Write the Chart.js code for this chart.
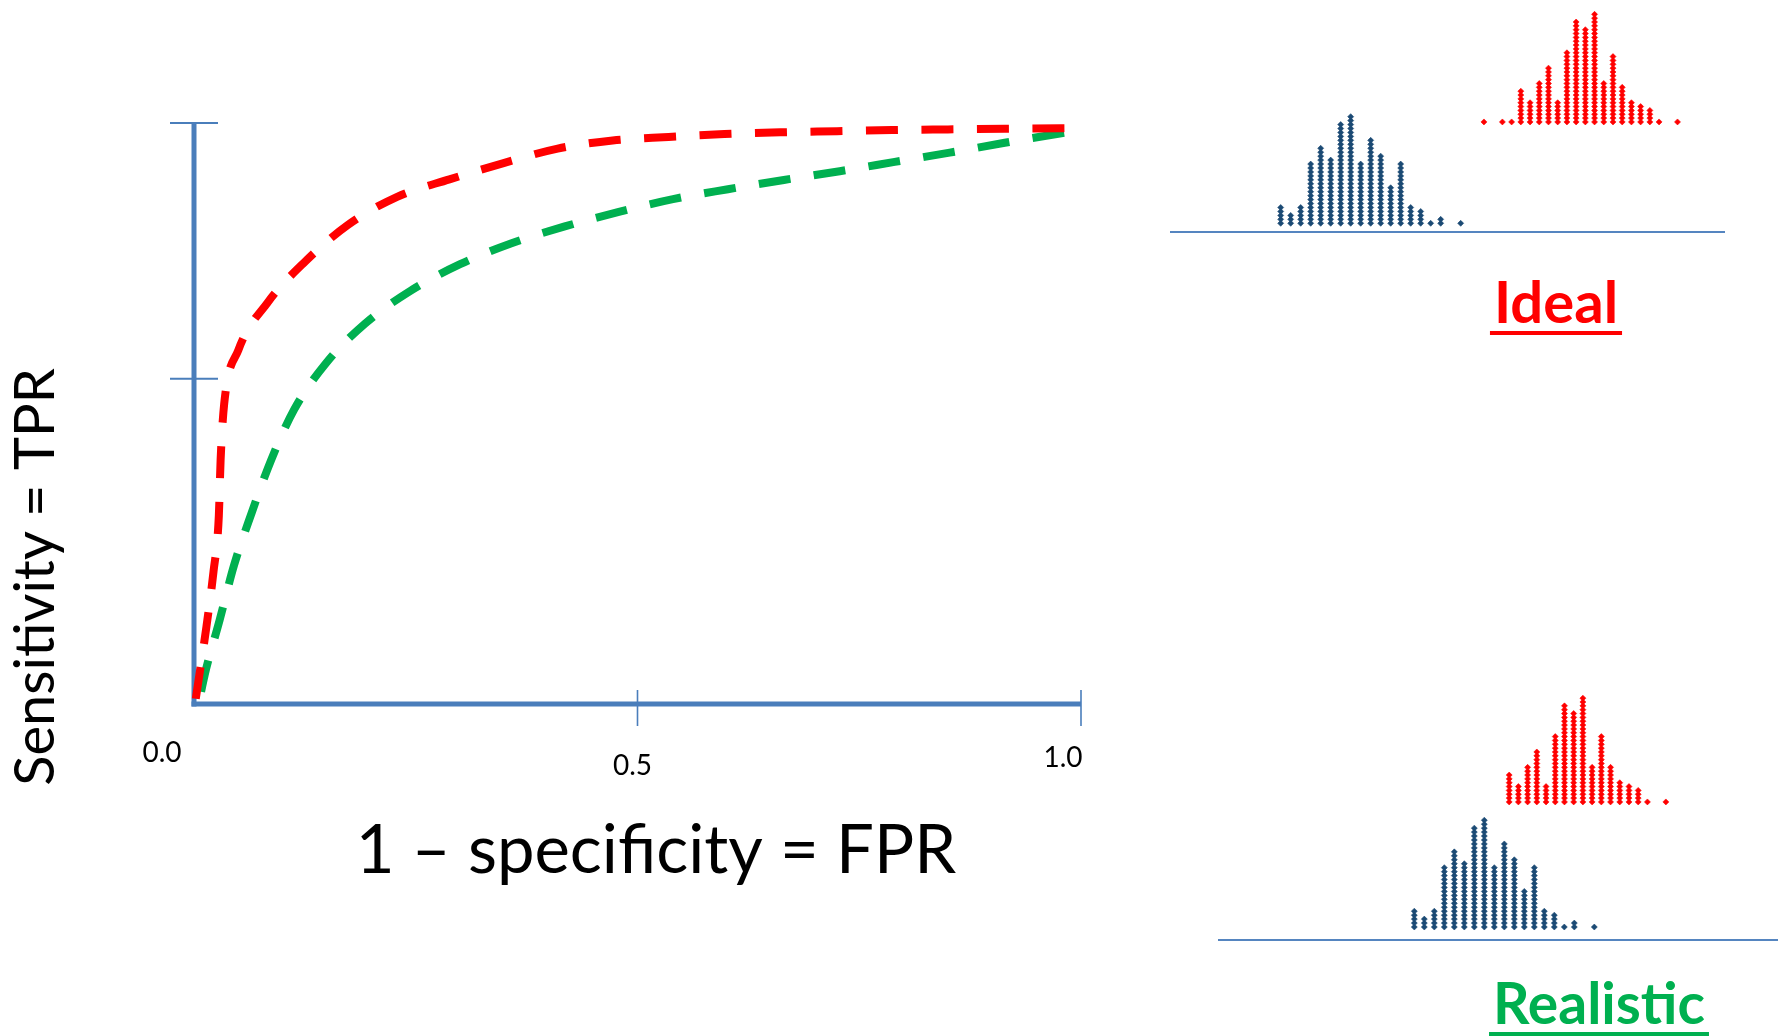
<!DOCTYPE html>
<html>
<head>
<meta charset="utf-8">
<script src="https://cdn.jsdelivr.net/npm/chart.js@4.4.1/dist/chart.umd.min.js"></script>
<style>
  html, body { margin: 0; padding: 0; background: #ffffff; width: 1785px; height: 1036px; overflow: hidden; }
  canvas { position: absolute; }
</style>
</head>
<body>
<canvas id="roc" width="1785" height="1036" style="left:0px;top:0px"></canvas>
<canvas id="idealNeg" width="580" height="140" style="left:1160px;top:100px"></canvas>
<canvas id="idealPos" width="240" height="135" style="left:1460px;top:0px"></canvas>
<canvas id="realNeg" width="575" height="145" style="left:1210px;top:800px"></canvas>
<canvas id="realPos" width="240" height="135" style="left:1450px;top:680px"></canvas>
<script>
// ROC axes: tick values and their labels
const fprTicks = [0, 0.5, 1];
const fprTickLabels = ['0.0', '0.5', '1.0'];
const tprTicks = [0.56, 1];

// Ideal classifier ROC curve (red)
const idealFpr = [0.002, 0.014, 0.022, 0.028, 0.030, 0.034, 0.050, 0.083, 0.125, 0.173, 0.229, 0.288,
                  0.349, 0.410, 0.472, 0.535, 0.598, 0.661, 0.725, 0.787, 0.850, 0.914, 0.992];
const idealTpr = [0.009, 0.133, 0.228, 0.324, 0.420, 0.516, 0.609, 0.691, 0.761, 0.824, 0.873, 0.903,
                  0.931, 0.956, 0.970, 0.976, 0.981, 0.984, 0.986, 0.988, 0.989, 0.990, 0.991];

// Realistic classifier ROC curve (green)
const realisticFpr = [0.008, 0.012, 0.029, 0.045, 0.065, 0.087, 0.113, 0.149, 0.193, 0.244, 0.300, 0.358,
                      0.418, 0.479, 0.540, 0.602, 0.665, 0.728, 0.790, 0.852, 0.914, 0.976, 0.993];
const realisticTpr = [0.021, 0.050, 0.145, 0.238, 0.329, 0.420, 0.507, 0.587, 0.655, 0.711, 0.757, 0.793,
                      0.822, 0.847, 0.869, 0.886, 0.902, 0.917, 0.933, 0.949, 0.966, 0.982, 0.986];

// Score distributions (dots per bin): negatives (blue) and positives (red)
const idealNegCounts     = [5, 3, 5, 16, 20, 17, 26, 28, 16, 22, 18, 10, 16, 5, 4, 1, 2, 0, 1];
const idealPosCounts     = [1, 0, 1, 1, 9, 6, 11, 15, 6, 19, 27, 25, 29, 11, 18, 10, 6, 5, 4, 1, 0, 1];
const realisticNegCounts = [5, 3, 5, 16, 20, 17, 26, 28, 16, 22, 18, 10, 16, 5, 4, 1, 2, 0, 1];
const realisticPosCounts = [0, 0, 0, 0, 8, 5, 10, 14, 5, 18, 26, 24, 28, 10, 18, 10, 6, 5, 4, 1, 0, 1];

const AXIS_BLUE = '#4a7ebb';
const LINE_BLUE = '#5585c0';
const NEG_BLUE = '#1b4a74';
const RED = '#ff0000';
const GREEN = '#00b050';
const FONT = 'Lato, "Open Sans", "DejaVu Sans", sans-serif';

function toPoints(xs, ys) { return xs.map((x, i) => ({ x: x, y: ys[i] })); }

const rocDecor = {
  id: 'rocDecor',
  beforeDatasetsDraw(chart) {
    const { ctx, scales: { x, y } } = chart;
    const x0 = x.getPixelForValue(0), x1 = x.getPixelForValue(1);
    const y0 = y.getPixelForValue(0), y1 = y.getPixelForValue(1);
    const seg = (ax, ay, bx, by) => { ctx.beginPath(); ctx.moveTo(ax, ay); ctx.lineTo(bx, by); ctx.stroke(); };
    ctx.save();
    ctx.strokeStyle = AXIS_BLUE;
    ctx.lineWidth = 5;
    seg(x0, y1, x0, y0 + 2.5);
    seg(x0 - 2.5, y0, x1, y0);
    ctx.lineWidth = 2;
    tprTicks.forEach(v => { const py = y.getPixelForValue(v); seg(x0 - 24, py, x0 + 24, py); });
    ctx.lineWidth = 1.6;
    fprTicks.forEach(v => { if (v === 0) return; const px = x.getPixelForValue(v); seg(px, y0 - 14, px, y0 + 22); });

    // tick labels
    const dx = [-32, -5, -18], dy = [58, 71, 63];
    ctx.fillStyle = '#000000';
    ctx.font = '28px ' + FONT;
    ctx.textAlign = 'center';
    ctx.textBaseline = 'alphabetic';
    fprTicks.forEach((v, i) => ctx.fillText(fprTickLabels[i], x.getPixelForValue(v) + dx[i], y0 + dy[i]));

    // axis titles
    ctx.font = '67px ' + FONT;
    ctx.fillText('1 \u2013 specificity = FPR', 656, 873);
    ctx.save();
    ctx.translate(54, 577);
    ctx.rotate(-Math.PI / 2);
    ctx.font = '56px ' + FONT;
    ctx.fillText('Sensitivity = TPR', 0, 0);
    ctx.restore();

    // panel captions with underline
    const caption = (text, color, size, cx, base, under) => {
      ctx.font = 'bold ' + size + 'px ' + FONT;
      ctx.fillStyle = color;
      ctx.fillText(text, cx, base);
      const w = ctx.measureText(text).width;
      ctx.fillRect(cx - w / 2 - 4, under, w + 8, 4);
    };
    caption('Ideal', RED, 58, 1556, 323, 331);
    caption('Realistic', GREEN, 57, 1599, 1024, 1032);
    ctx.restore();
  }
};

new Chart(document.getElementById('roc'), {
  type: 'scatter',
  data: {
    datasets: [
      { label: 'Ideal', data: toPoints(idealFpr, idealTpr), showLine: true, borderColor: RED,
        borderWidth: 8, borderDash: [32, 23.5], pointRadius: 0, cubicInterpolationMode: 'monotone', clip: false },
      { label: 'Realistic', data: toPoints(realisticFpr, realisticTpr), showLine: true, borderColor: GREEN,
        borderWidth: 8, borderDash: [32, 23.5], pointRadius: 0, cubicInterpolationMode: 'monotone', clip: false }
    ]
  },
  options: {
    responsive: false, animation: false, events: [],
    layout: { padding: { left: 194, right: 704, top: 123, bottom: 332 } },
    plugins: { legend: { display: false }, tooltip: { enabled: false } },
    scales: {
      x: { type: 'linear', display: false, min: 0, max: 1 },
      y: { type: 'linear', display: false, min: 0, max: 1 }
    }
  },
  plugins: [rocDecor]
});

const baseline = {
  id: 'baseline',
  beforeDatasetsDraw(chart) {
    const { ctx, chartArea: a } = chart;
    ctx.save();
    ctx.strokeStyle = LINE_BLUE;
    ctx.lineWidth = 2.2;
    ctx.beginPath(); ctx.moveTo(a.left, a.bottom); ctx.lineTo(a.right, a.bottom); ctx.stroke();
    ctx.restore();
  }
};

function dotPoints(counts) {
  const pts = [];
  counts.forEach((n, bin) => { for (let k = 0; k < n; k++) pts.push({ x: bin, y: k + 0.5 }); });
  return pts;
}

function dotChart(id, counts, color, xr, yr, pad, withLine) {
  return new Chart(document.getElementById(id), {
    type: 'scatter',
    data: { datasets: [{ data: dotPoints(counts), backgroundColor: color, borderColor: color, borderWidth: 0.6,
      pointStyle: 'rectRot', pointRadius: 3.0, pointHoverRadius: 3.0, clip: false }] },
    options: {
      responsive: false, animation: false, events: [],
      layout: { padding: pad },
      plugins: { legend: { display: false }, tooltip: { enabled: false } },
      scales: {
        x: { type: 'linear', display: false, min: xr[0], max: xr[1] },
        y: { type: 'linear', display: false, min: yr[0], max: yr[1] }
      }
    },
    plugins: withLine ? [baseline] : []
  });
}

dotChart('idealNeg', idealNegCounts, NEG_BLUE, [-11.07, 44.43], [-1.7, 30.81], { left: 10, right: 15, top: 0, bottom: 8 }, true);
dotChart('idealPos', idealPosCounts, RED, [-2.21, 23.05], [-1.96, 31.29], 0, false);
dotChart('realNeg', realisticNegCounts, NEG_BLUE, [-19.63, 36.37], [-2.78, 31.70], { left: 8, right: 7, top: 0, bottom: 5 }, true);
dotChart('realPos', realisticPosCounts, RED, [-2.03, 23.23], [-1.96, 31.29], 0, false);
</script>
</body>
</html>
